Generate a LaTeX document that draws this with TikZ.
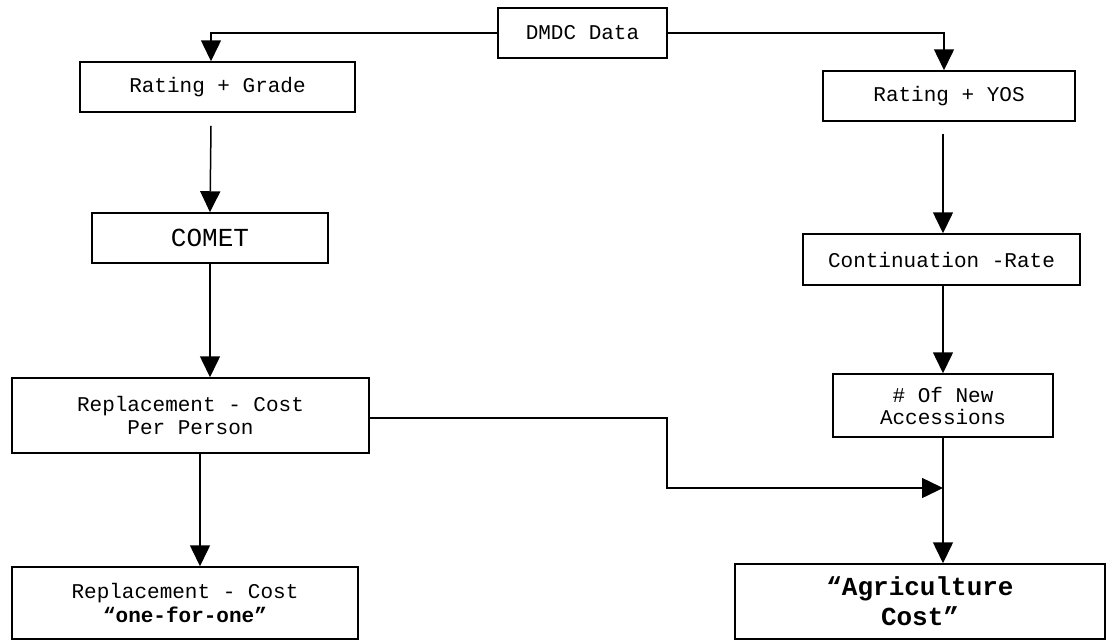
\documentclass[tikz,border=0pt]{standalone}
\usepackage{fontspec}
\newfontfamily\courier{Liberation Mono}
\usepackage{tikz}
\usetikzlibrary{arrows.meta, calc, positioning}

\begin{document}
\begin{tikzpicture}[x=1pt, y=-1pt, >={Triangle[width=20pt, length=21pt]},
    box/.style={draw, line width=1.5pt, inner sep=0pt, align=center,
        font=\courier\fontsize{21}{23}\selectfont},
    flow/.style={->, line width=1.5pt}]
    \useasboundingbox (0,0) rectangle (1113,641);

    % Các khối bên trái
    \node[box, minimum width=169pt, minimum height=50pt] (dmdc) at (582.5,33) {DMDC Data};
    \node[box, minimum width=275pt, minimum height=50pt] (grade) at (217.5,87) {Rating + Grade};
    \node[box, minimum width=236pt, minimum height=50pt,
        font=\courier\fontsize{26}{28}\selectfont] (comet) at (210,238) {COMET};
    \node[box, minimum width=357pt, minimum height=75pt] (repl) at (190.5,415.5)
        {Replacement - Cost\\Per Person};
    \node[box, minimum width=346pt, minimum height=72pt, font=\courier\fontsize{21}{24}\selectfont]
        (one) at (185,603) {Replacement - Cost\\\textbf{“one-for-one”}};

    % Các khối bên phải
    \node[box, minimum width=252pt, minimum height=50pt] (yos) at (949,96) {Rating + YOS};
    \node[box, minimum width=277pt, minimum height=51pt] (cont) at (941.5,259.5) {Continuation -Rate};
    \node[box, minimum width=220pt, minimum height=63pt, font=\courier\fontsize{21}{22}\selectfont]
        (newacc) at (943,405.5) {\# Of New\\Accessions};
    \node[box, minimum width=370pt, minimum height=75pt,
        font=\courier\bfseries\fontsize{26}{30}\selectfont] (agri) at (920,601.5)
        {“Agriculture\\Cost”};
    \coordinate (merge) at (943,488);

    % Các mũi tên
    \draw[flow] (dmdc.west) -| ([xshift=-6.5pt]grade.north);
    \draw[flow] (dmdc.east) -| ([xshift=-5pt]yos.north);
    \draw[flow] ([xshift=-6.5pt, yshift=-13pt]grade.south) -- (comet.north);
    \draw[flow] (comet.south) -- (comet.south |- repl.north);
    \draw[flow] ([xshift=9.5pt]repl.south) -- ([xshift=9.5pt]repl.south |- one.north);
    \draw[flow] ([xshift=-6pt, yshift=-12pt]yos.south) -- (cont.north -| newacc.north);
    \draw[flow] (cont.south -| newacc.south) -- (newacc.north);
    \draw[flow] (newacc.south) -- (newacc.south |- agri.north);
    \draw[flow] ([yshift=-2.5pt]repl.east) -- ++(297,0) |- (merge);
\end{tikzpicture}
\end{document}
